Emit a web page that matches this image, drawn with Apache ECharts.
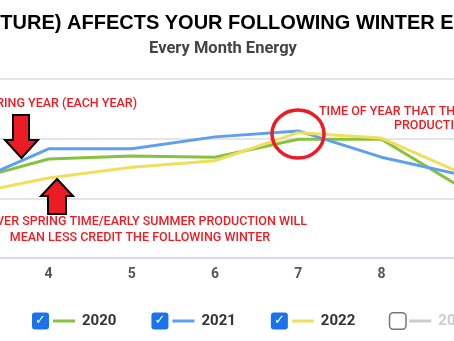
<!DOCTYPE html>
<html>
<head>
<meta charset="utf-8">
<script src="https://cdn.jsdelivr.net/npm/echarts@6/dist/echarts.min.js"></script>
<style>html,body{margin:0;padding:0;background:#fff}#c{width:454px;height:341px}</style>
</head>
<body>
<div id="c"></div>
<script>
var months = ['3', '4', '5', '6', '7', '8', '9'];
var s2020 = [128, 166, 171, 169, 199, 199, 115];
var s2021 = [122, 183, 183, 203, 213, 169, 138];
var s2022 = [106, 134, 152, 163, 210, 201, 140];
var s2023 = [];
var seriesNames = ['2020', '2021', '2022', '2023'];
var seriesColors = ['#86c240', '#5fa0ee', '#f1df5c', '#cccccc'];
var yTicks = [0, 100, 200, 300];

var titleText = 'TURE) AFFECTS YOUR FOLLOWING WINTER E';
var subtitleText = 'Every Month Energy';
var note1 = 'RING YEAR (EACH YEAR)';
var note2a = 'VER SPRING TIME/EARLY SUMMER PRODUCTION WILL';
var note2b = 'MEAN LESS CREDIT THE FOLLOWING WINTER';
var note3a = 'TIME OF YEAR THAT THE';
var note3b = 'PRODUCTION';

var RED = '#ec1c24';
var chart = echarts.init(document.getElementById('c'), null, {renderer: 'canvas'});

var rich = {
  cbOn: {width: 17, height: 17, lineHeight: 17, backgroundColor: '#1a73e8', borderRadius: 3, color: '#fff', align: 'center', verticalAlign: 'middle', fontSize: 13, fontWeight: 'bold', fontFamily: 'DejaVu Sans'},
  cbOff: {width: 15, height: 15, backgroundColor: '#fff', borderColor: '#767676', borderWidth: 1.5, borderRadius: 3, verticalAlign: 'middle'},
  s4: {width: 4},
  s7: {width: 7},
  tOn: {color: '#333', fontSize: 15, fontWeight: 'bold', fontFamily: 'Roboto', verticalAlign: 'middle'},
  tOff: {color: '#cccccc', fontSize: 15, fontWeight: 'bold', fontFamily: 'Roboto', verticalAlign: 'middle'}
};
seriesNames.forEach(function (n, i) {
  rich['ln' + n] = {width: 22, height: 3, backgroundColor: seriesColors[i], verticalAlign: 'middle'};
});

var dataArr = [s2020, s2021, s2022, s2023];
var noteStyle = {fill: RED, fontSize: 12.5, fontWeight: 500, fontFamily: 'Roboto', verticalAlign: 'middle'};
function note(text, x, y, align) {
  return {type: 'text', z: 100, style: Object.assign({text: text, x: x, y: y, align: align}, noteStyle)};
}

chart.setOption({
  animation: false,
  title: [
    {text: titleText, left: 'center', top: 8, textStyle: {fontFamily: 'Liberation Sans', fontWeight: 'bold', fontSize: 20, color: '#000'}},
    {text: subtitleText, left: 218, textAlign: 'center', top: 35, textStyle: {fontFamily: 'Roboto', fontWeight: 'bold', fontSize: 16.5, color: '#444'}}
  ],
  legend: {
    left: 22, top: 307, width: 700, itemGap: 30, itemWidth: 0, itemHeight: 0, icon: 'rect',
    data: seriesNames,
    selected: {'2023': false},
    inactiveColor: '#ccc',
    formatter: function (name) {
      var on = name !== '2023';
      return (on ? '{cbOn|✓}' : '{cbOff|}') + '{s4|}{ln' + name + '|}{s7|}' + (on ? '{tOn|' : '{tOff|') + name + '}';
    },
    textStyle: {rich: rich}
  },
  grid: {left: -76.2, right: -52.2, top: 79, bottom: 83, outerBoundsMode: 'none', containLabel: false},
  xAxis: {
    type: 'category', data: months, boundaryGap: true,
    axisLine: {lineStyle: {color: '#ccd6eb', width: 1.5}},
    axisTick: {length: 10, lineStyle: {color: '#ccd6eb', width: 1.5}},
    axisLabel: {color: '#555', fontSize: 14, fontWeight: 'bold', fontFamily: 'Roboto', margin: 9}
  },
  yAxis: {
    type: 'value', min: yTicks[0], max: yTicks[yTicks.length - 1], interval: 100,
    axisLabel: {show: false}, axisLine: {show: false}, axisTick: {show: false},
    splitLine: {lineStyle: {color: '#dedede', width: 1.5}}
  },
  series: seriesNames.map(function (n, i) {
    return {name: n, type: 'line', data: dataArr[i], showSymbol: false, symbol: 'none',
      lineStyle: {color: seriesColors[i], width: 3}, itemStyle: {color: seriesColors[i]}};
  }),
  graphic: [
    note(note1, 137, 104, 'right'),
    note(note2a, 307, 222, 'right'),
    note(note2b, 140, 238, 'center'),
    note(note3a, 319, 112, 'left'),
    note(note3b, 394, 126, 'left'),
    {type: 'polygon', z: 100, shape: {points: [[13, 115], [29, 115], [29, 140], [38, 140], [21.5, 158], [5, 140], [13, 140]]}, style: {fill: RED, stroke: '#000', lineWidth: 2}},
    {type: 'polygon', z: 100, shape: {points: [[57, 179], [73, 196], [66, 196], [66, 214], [48, 214], [48, 196], [41, 196]]}, style: {fill: RED, stroke: '#000', lineWidth: 2}},
    {type: 'ellipse', z: 100, shape: {cx: 298, cy: 134, rx: 26, ry: 24}, style: {fill: 'none', stroke: RED, lineWidth: 3.5}}
  ]
});
</script>
</body>
</html>
